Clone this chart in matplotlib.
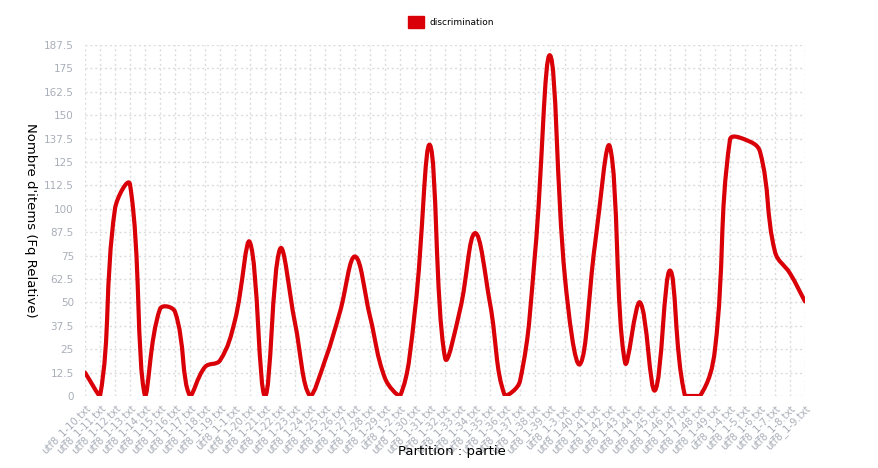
import numpy as np
import matplotlib
matplotlib.use('Agg')
import matplotlib.pyplot as plt
from matplotlib.path import Path
from matplotlib.patches import PathPatch, Patch

## data ##

labels = ['utf8_1-10.txt', 'utf8_1-11.txt', 'utf8_1-12.txt', 'utf8_1-13.txt', 'utf8_1-14.txt',
          'utf8_1-15.txt', 'utf8_1-16.txt', 'utf8_1-17.txt', 'utf8_1-18.txt', 'utf8_1-19.txt',
          'utf8_1-1.txt', 'utf8_1-20.txt', 'utf8_1-21.txt', 'utf8_1-22.txt', 'utf8_1-23.txt',
          'utf8_1-24.txt', 'utf8_1-25.txt', 'utf8_1-26.txt', 'utf8_1-27.txt', 'utf8_1-28.txt',
          'utf8_1-29.txt', 'utf8_1-2.txt', 'utf8_1-30.txt', 'utf8_1-31.txt', 'utf8_1-32.txt',
          'utf8_1-33.txt', 'utf8_1-34.txt', 'utf8_1-35.txt', 'utf8_1-36.txt', 'utf8_1-37.txt',
          'utf8_1-38.txt', 'utf8_1-39.txt', 'utf8_1-3.txt', 'utf8_1-40.txt', 'utf8_1-41.txt',
          'utf8_1-42.txt', 'utf8_1-43.txt', 'utf8_1-44.txt', 'utf8_1-45.txt', 'utf8_1-46.txt',
          'utf8_1-47.txt', 'utf8_1-48.txt', 'utf8_1-49.txt', 'utf8_1-4.txt', 'utf8_1-5.txt',
          'utf8_1-6.txt', 'utf8_1-7.txt', 'utf8_1-8.txt', 'utf8_1-9.txt']

discrimination = [12.5, 0, 100, 113, 0, 46.5, 45, 0, 15.5, 19,
                  40.5, 82, 0, 78.5, 39, 0, 19, 45, 74.5, 42.5,
                  9.5, 0, 46, 134, 20.5, 46, 87, 49.5, 0, 8,
                  76, 182, 63, 17, 81, 133, 18, 50, 3, 67,
                  0, 0, 25, 137, 137, 130.5, 77, 65.5, 50.5]

y_ticks = np.arange(0, 187.5 + 0.1, 12.5)
y_ticklabels = ['%g' % v for v in y_ticks]

red = '#d90008'
tick_col = '#a9aeb8'
ymax = 187.5


def spline_path(xs, ys, xscale, yscale, tension=0.4):
    # bezier curve like chart.js (tension 0.4), control points capped to chart area
    n = len(xs)
    px = np.array(xs, float) * xscale
    py = np.array(ys, float) * yscale
    cps = []
    for i in range(n):
        p0 = i - 1 if i > 0 else i
        p2 = i + 1 if i < n - 1 else i
        d01 = np.hypot(px[i] - px[p0], py[i] - py[p0])
        d12 = np.hypot(px[p2] - px[i], py[p2] - py[i])
        tot = d01 + d12
        s01 = d01 / tot if tot else 0
        s12 = d12 / tot if tot else 0
        fa, fb = tension * s01, tension * s12
        c1 = (px[i] - fa * (px[p2] - px[p0]), py[i] - fa * (py[p2] - py[p0]))
        c2 = (px[i] + fb * (px[p2] - px[p0]), py[i] + fb * (py[p2] - py[p0]))
        c1 = (c1[0] / xscale, min(max(c1[1] / yscale, 0), ymax))
        c2 = (c2[0] / xscale, min(max(c2[1] / yscale, 0), ymax))
        cps.append((c1, c2))
    verts = [(xs[0], ys[0])]
    codes = [Path.MOVETO]
    for i in range(n - 1):
        verts += [cps[i][1], cps[i + 1][0], (xs[i + 1], ys[i + 1])]
        codes += [Path.CURVE4] * 3
    return Path(verts, codes)


fig = plt.figure(figsize=(8.79, 4.68), dpi=100)
ax = fig.add_axes([85 / 879, 72 / 468, 720 / 879, 351 / 468])

x = np.arange(len(labels))
path = spline_path(x, discrimination, 15.0, 351 / ymax)
ax.add_patch(PathPatch(path, facecolor='none', edgecolor=red, lw=3,
                       capstyle='round', joinstyle='round', zorder=3))

ax.set_xlim(0, len(labels) - 1)
ax.set_ylim(0, ymax)
ax.set_xticks(x)
ax.set_xticklabels(labels, rotation=45, ha='right', va='top',
                   rotation_mode='anchor', fontsize=7.2, color=tick_col)
ax.set_yticks(y_ticks)
ax.set_yticklabels(y_ticklabels, fontsize=7.5, color=tick_col)
ax.tick_params(length=0, pad=5)
ax.tick_params(axis='y', pad=8)
ax.grid(True, color='#dcdcdc', linestyle=(0, (1.5, 2)), linewidth=1.0)
ax.set_axisbelow(True)
for s in ax.spines.values():
    s.set_visible(False)

fig.text(30 / 879, 1 - 220 / 468, "Nombre d'items (Fq Relative)", rotation=-90,
         ha='center', va='center', fontsize=9.5)
fig.text(452 / 879, 1 - 451 / 468, 'Partition : partie', ha='center', va='center', fontsize=9.5)

fig.legend(handles=[Patch(facecolor=red, edgecolor=red)], labels=['discrimination'],
           loc='center', bbox_to_anchor=(451 / 879, 1 - 22 / 468), frameon=False,
           fontsize=6.5, handlelength=1.7, handleheight=1.7, handletextpad=0.6)

plt.savefig('out.png', dpi=100)
